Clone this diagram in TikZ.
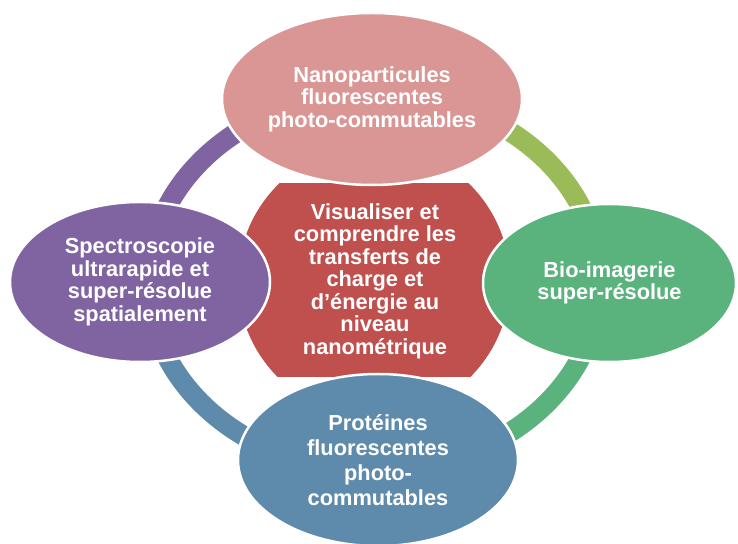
\documentclass[tikz,border=0pt]{standalone}
\usepackage{fontspec}
\setmainfont{Liberation Sans}
\usetikzlibrary{shapes.geometric}
\definecolor{cPink}{HTML}{D99694}
\definecolor{cPurple}{HTML}{8064A2}
\definecolor{cLime}{HTML}{9BBB59}
\definecolor{cGreen}{HTML}{5AB27D}
\definecolor{cBlue}{HTML}{5E8BAC}
\definecolor{cRed}{HTML}{C0504D}
\tikzset{
  bubble/.style={ellipse, draw=white, line width=2.5pt, inner sep=0pt, text=white,
    align=center, font=\bfseries\fontsize{21.8}{22.5}\selectfont},
  ringseg/.style={line width=20pt, line cap=butt},
  ctext/.style={text=white, align=center, inner sep=0pt,
    font=\bfseries\fontsize{21.8}{22.5}\selectfont}
}
\begin{document}
\begin{tikzpicture}[x=1pt,y=1pt]
\useasboundingbox (0,0) rectangle (738,543);
\fill[white] (0,0) rectangle (738,543);
% ring
\coordinate (rc) at (374,261);
\draw[ringseg, cLime]   (rc) ++(0:225.5 and 188.5)   arc[start angle=0,   end angle=90,  x radius=225.5, y radius=188.5];
\draw[ringseg, cPurple] (rc) ++(90:225.5 and 188.5)  arc[start angle=90,  end angle=180, x radius=225.5, y radius=188.5];
\draw[ringseg, cBlue]   (rc) ++(180:225.5 and 188.5) arc[start angle=180, end angle=270, x radius=225.5, y radius=188.5];
\draw[ringseg, cGreen]  (rc) ++(270:225.5 and 188.5) arc[start angle=270, end angle=360, x radius=225.5, y radius=188.5];
% centre
\begin{scope}
  \clip (220,166) rectangle (530,359);
  \node[circle, fill=cRed, minimum size=272pt, inner sep=0pt] (hub) at (374,262) {};
\end{scope}
\node[ctext] (hubtext) at (375,262) {Visualiser et\\comprendre les\\transferts de\\charge et\\d’énergie au\\niveau\\nanométrique};
% satellites
\node[bubble, fill=cPink, minimum width=300pt, minimum height=172pt] (top) at (372,444)
  {Nanoparticules\\fluorescentes\\photo-commutables};
\node[bubble, fill=cPurple, minimum width=260pt, minimum height=160pt] (left) at (140,261)
  {Spectroscopie\\ultrarapide et\\super-résolue\\spatialement};
\node[bubble, fill=cGreen, minimum width=253pt, minimum height=158pt] (right) at (609.5,260)
  {Bio-imagerie\\super-résolue};
\node[bubble, fill=cBlue, minimum width=280pt, minimum height=172pt,
  font=\bfseries\fontsize{21.8}{25}\selectfont] (bottom) at (378,83)
  {Protéines\\fluorescentes\\photo-\\commutables};
\end{tikzpicture}
\end{document}
